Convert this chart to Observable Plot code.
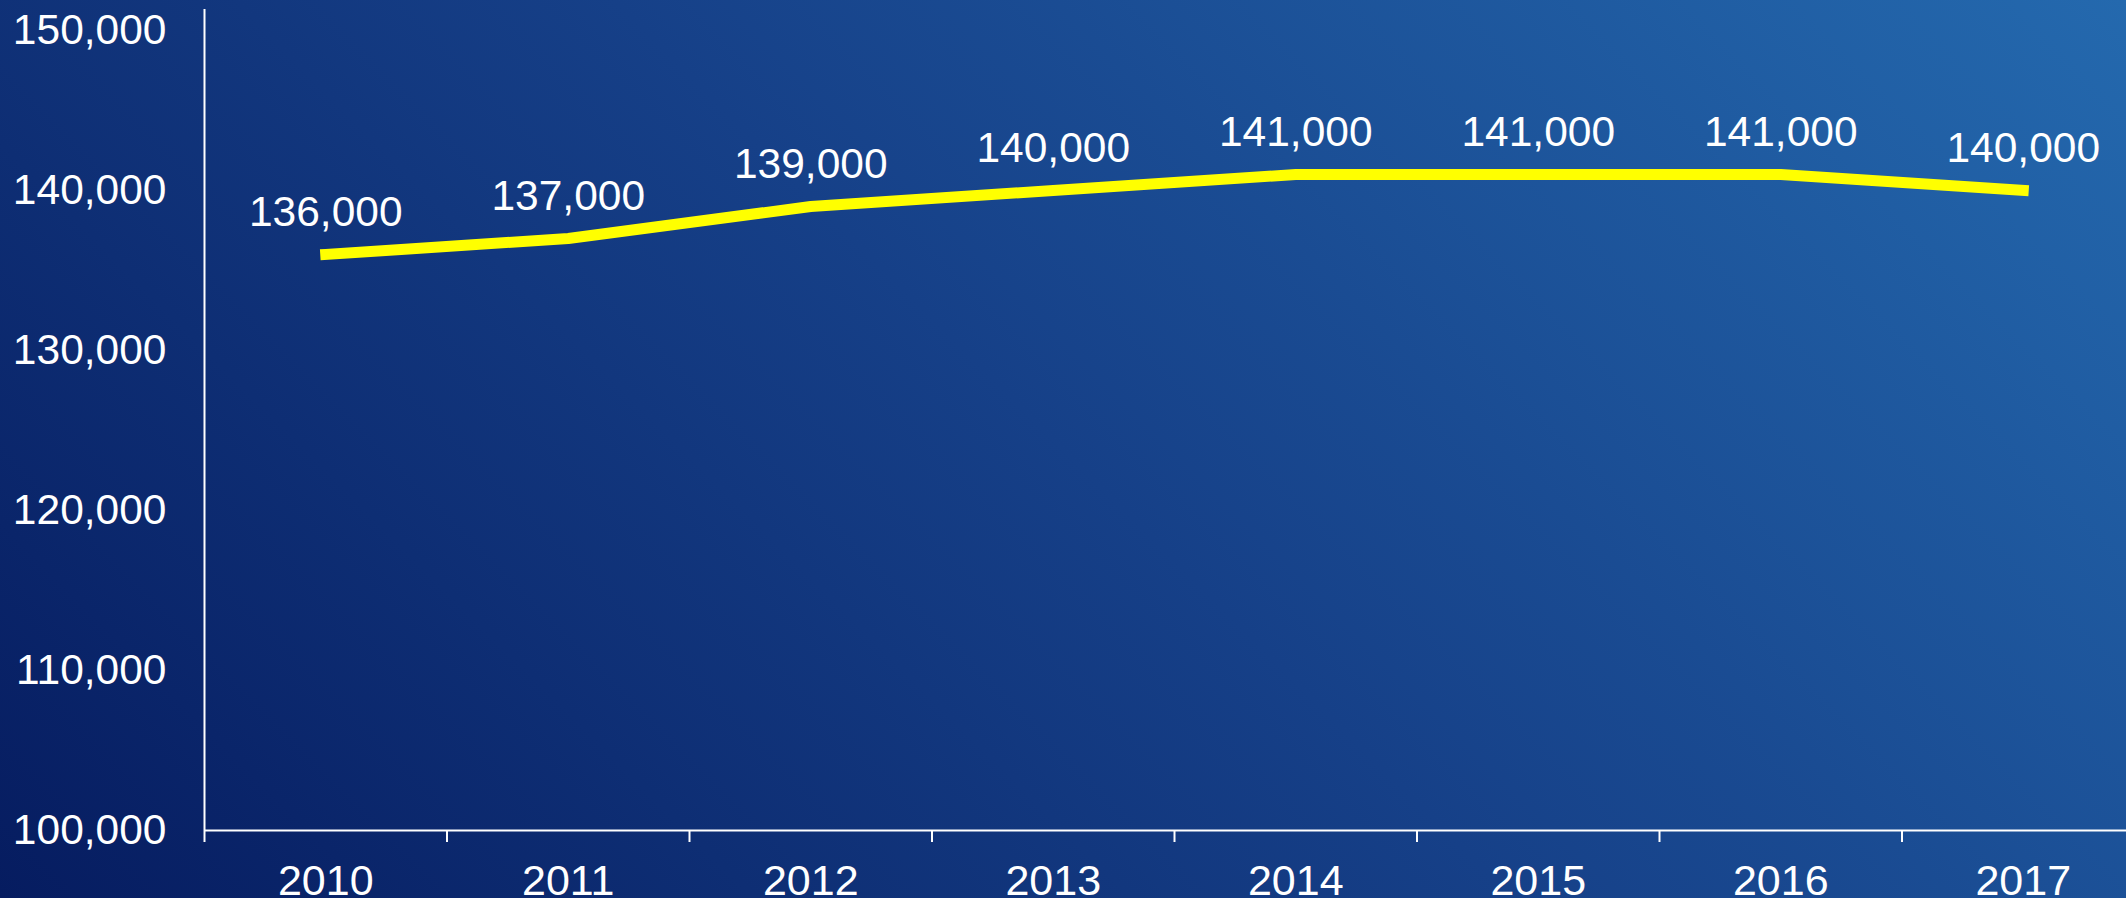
<!DOCTYPE html>
<html>
<head>
<meta charset="utf-8">
<script src="https://cdn.jsdelivr.net/npm/d3@7"></script>
<script src="https://cdn.jsdelivr.net/npm/@observablehq/plot@0.6"></script>
<style>
  html, body { margin: 0; padding: 0; background: #0f3279; }
  #chart svg { display: block; }
</style>
</head>
<body>
<div id="chart"></div>
<script>
const years = [2010, 2011, 2012, 2013, 2014, 2015, 2016, 2017];
const values = [136000, 137000, 139000, 140000, 141000, 141000, 141000, 140000];
const yTicks = [100000, 110000, 120000, 130000, 140000, 150000];

const data = years.map((year, i) => ({year, value: values[i]}));
const boundaries = years.map(y => y - 0.5);
const fmt = d3.format(",");

const chart = Plot.plot({
  width: 2126,
  height: 898,
  marginLeft: 204,
  marginRight: 0,
  marginTop: 9,
  marginBottom: 68,
  x: {type: "linear", domain: [2009.5, 2017.5], range: [204, 2144]},
  y: {type: "linear", domain: [100000, 150000], range: [830, 30]},
  style: {
    background: "linear-gradient(45deg, #061c60 0%, #164088 50%, #2469ae 100%)",
    fontFamily: "'Liberation Sans', Arial, sans-serif",
    color: "white"
  },
  marks: [
    Plot.ruleY([100000], {stroke: "white", strokeWidth: 2}),
    Plot.ruleX([2009.5], {stroke: "white", strokeWidth: 2}),
    Plot.axisX(boundaries, {anchor: "bottom", tickSize: 12, tickFormat: () => "", color: "white", strokeWidth: 2, strokeOpacity: 1, label: null}),
    Plot.axisX(years, {anchor: "bottom", tickSize: 0, tickPadding: 34, tickFormat: d => String(d), fontSize: 43, color: "white", label: null}),
    Plot.axisY(yTicks, {anchor: "left", tickSize: 0, tickPadding: 38, tickFormat: fmt, fontSize: 42.5, color: "white", label: null}),
    Plot.line(data, {x: "year", y: "value", stroke: "#ffff00", strokeWidth: 11, strokeLinecap: "square", strokeLinejoin: "miter"}),
    Plot.text(data, {x: "year", y: "value", text: d => fmt(d.value), dy: -42, fontSize: 42.5, fill: "white"})
  ]
});
document.getElementById("chart").append(chart);
</script>
</body>
</html>
